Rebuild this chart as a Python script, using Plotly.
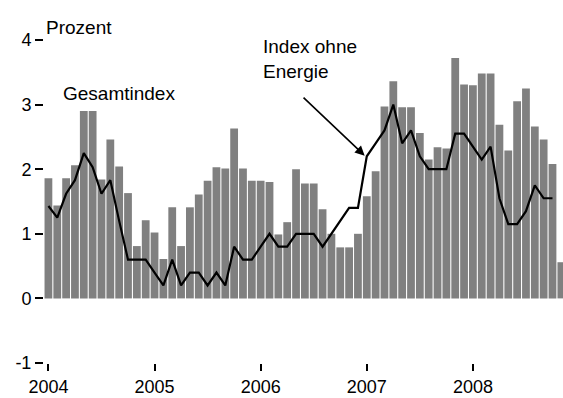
import plotly.graph_objects as go

# Monthly inflation rates in percent, January 2004 onwards
start_year = 2004
gesamtindex = [
    1.86, 1.44, 1.86, 2.06, 2.90, 2.90, 1.84, 2.46, 2.04, 1.63, 0.81, 1.21,   # 2004
    1.02, 0.61, 1.41, 0.81, 1.41, 1.61, 1.82, 2.03, 2.01, 2.63, 2.01, 1.82,   # 2005
    1.82, 1.80, 0.99, 1.18, 2.00, 1.78, 1.78, 1.38, 1.00, 0.79, 0.79, 1.00,   # 2006
    1.58, 1.97, 2.97, 3.36, 2.96, 2.96, 2.56, 2.15, 2.34, 2.32, 3.72, 3.31,   # 2007
    3.30, 3.48, 3.48, 2.69, 2.29, 3.05, 3.25, 2.66, 2.46, 2.08, 0.56,         # 2008
]
ohne_energie = [
    1.43, 1.25, 1.62, 1.83, 2.25, 2.03, 1.62, 1.83, 1.20, 0.60, 0.60, 0.60,   # 2004
    0.40, 0.20, 0.60, 0.20, 0.40, 0.40, 0.20, 0.40, 0.20, 0.80, 0.60, 0.60,   # 2005
    0.80, 1.00, 0.80, 0.80, 1.00, 1.00, 1.00, 0.80, 1.00, 1.20, 1.40, 1.40,   # 2006
    2.20, 2.40, 2.60, 3.00, 2.40, 2.60, 2.20, 2.00, 2.00, 2.00, 2.55, 2.55,   # 2007
    2.35, 2.15, 2.35, 1.55, 1.15, 1.15, 1.35, 1.75, 1.55, 1.55,               # 2008
]
year_ticks = [2004, 2005, 2006, 2007, 2008]
y_ticks = [-1, 0, 1, 2, 3, 4]
y_tick_text = ["-1", "0", "1", "2", "3", "4"]

# month positions on a fractional-year scale
x_bars = [start_year + i / 12 for i in range(len(gesamtindex))]
x_line = [start_year + i / 12 for i in range(len(ohne_energie))]

FONT = "Liberation Sans, Arial, sans-serif"

fig = go.Figure()
fig.add_trace(go.Bar(
    x=x_bars, y=gesamtindex, marker=dict(color="#808080", line_width=0),
    name="Gesamtindex",
))
fig.add_trace(go.Scatter(
    x=x_line, y=ohne_energie, mode="lines",
    line=dict(color="black", width=2.2), name="Index ohne Energie",
))

fig.add_annotation(text="Prozent", x=0, xref="paper", y=4, yref="y",
                   xanchor="left", yanchor="bottom", showarrow=False,
                   font=dict(size=19, color="black", family=FONT))
fig.add_annotation(text="Gesamtindex", x=start_year + 1.4 / 12, y=3.17,
                   xanchor="left", yanchor="middle", showarrow=False,
                   font=dict(size=19, color="black", family=FONT))
fig.add_annotation(text="Index ohne<br>Energie", x=2006.0, y=3.7,
                   xanchor="left", yanchor="middle", align="left", showarrow=False,
                   font=dict(size=19, color="black", family=FONT))
# arrow pointing at January 2007 of the core index
fig.add_annotation(x=start_year + 36 / 12 - 0.02, y=ohne_energie[36] + 0.01,
                   ax=2006.39, ay=3.13, axref="x", ayref="y",
                   text="", showarrow=True, arrowhead=2, arrowsize=1.2,
                   arrowwidth=1.6, arrowcolor="black", standoff=0)

fig.update_layout(
    width=563, height=398,
    margin=dict(l=44, r=0, t=40, b=35),
    paper_bgcolor="white", plot_bgcolor="white",
    showlegend=False, bargap=0.12,
    font=dict(family=FONT, size=18, color="black"),
)
fig.update_xaxes(
    range=[start_year - 0.5 / 12, 2008.849], tickvals=year_ticks,
    ticktext=[str(y) for y in year_ticks],
    ticks="outside", ticklen=7, tickwidth=2, tickcolor="black",
    showgrid=False, zeroline=False, showline=False,
)
fig.update_yaxes(
    range=[-1, 4], tickvals=y_ticks, ticktext=y_tick_text,
    ticks="outside", ticklen=8, tickwidth=2, tickcolor="black",
    showgrid=False, zeroline=False, showline=False,
)

fig.write_html("out.html")
